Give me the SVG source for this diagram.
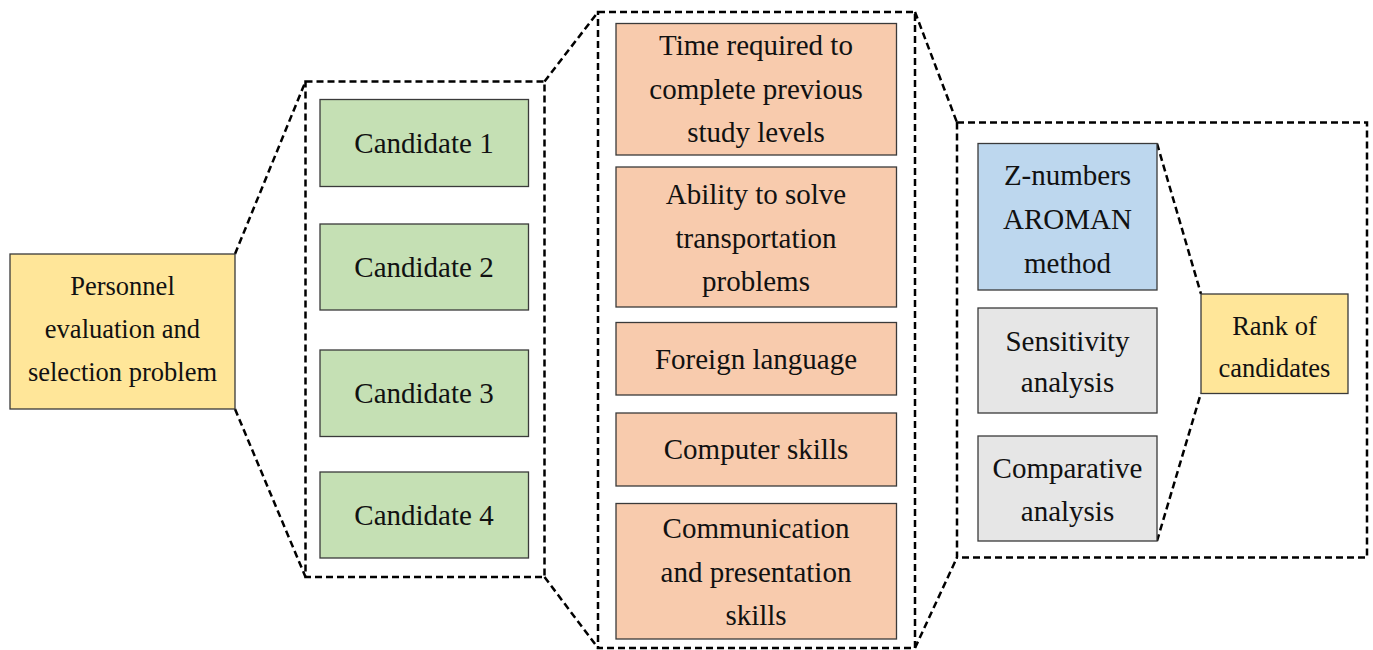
<svg xmlns="http://www.w3.org/2000/svg" width="1373" height="650" viewBox="0 0 1373 650">
  <style>
    .box { stroke: #3a3a3a; stroke-width: 1.3; }
    .yellow { fill: #FFE699; }
    .green { fill: #C5E0B4; }
    .peach { fill: #F8CBAD; }
    .blue { fill: #BDD7EE; }
    .grey { fill: #E6E6E6; }
    .frame { fill: none; stroke: #000; stroke-width: 2.5; stroke-dasharray: 7 4; }
    .link { fill: none; stroke: #000; stroke-width: 2.5; stroke-dasharray: 7 4; }
    text { font-family: "Liberation Serif", "Times New Roman", serif; font-size: 29px; fill: #111; text-anchor: middle; }
    .sm { font-size: 26.5px; }
  </style>
  <rect width="1373" height="650" fill="#fff"/>

  <!-- dashed containers -->
  <g id="frames">
    <rect class="frame" x="305.5" y="81.5" width="239" height="495.5"/>
    <rect class="frame" x="598" y="12" width="317" height="636"/>
    <rect class="frame" x="957" y="122.5" width="410" height="435"/>
  </g>

  <!-- expanding connectors -->
  <g id="connectors">
    <line class="link" x1="235" y1="254" x2="305.5" y2="81.5"/>
    <line class="link" x1="235" y1="409" x2="305.5" y2="577"/>
    <line class="link" x1="544.5" y1="81.5" x2="598" y2="12"/>
    <line class="link" x1="544.5" y1="577" x2="598" y2="648"/>
    <line class="link" x1="915" y1="12" x2="957" y2="122.5"/>
    <line class="link" x1="915" y1="648" x2="957" y2="557.5"/>
    <line class="link" x1="1157" y1="143.5" x2="1201" y2="294"/>
    <line class="link" x1="1157" y1="541" x2="1201" y2="393"/>
  </g>

  <g id="problem">
    <rect class="box yellow" x="10" y="254" width="225" height="155"/>
    <text class="sm" x="122.5" y="295">Personnel</text>
    <text class="sm" x="122.5" y="338">evaluation and</text>
    <text class="sm" x="122.5" y="381">selection problem</text>
  </g>

  <g id="candidate1">
    <rect class="box green" x="320" y="99.5" width="208.5" height="87"/>
    <text x="424" y="153">Candidate 1</text>
  </g>
  <g id="candidate2">
    <rect class="box green" x="320" y="224" width="208.5" height="86"/>
    <text x="424" y="277">Candidate 2</text>
  </g>
  <g id="candidate3">
    <rect class="box green" x="320" y="350" width="208.5" height="86.5"/>
    <text x="424" y="403">Candidate 3</text>
  </g>
  <g id="candidate4">
    <rect class="box green" x="320" y="472" width="208.5" height="86"/>
    <text x="424" y="525">Candidate 4</text>
  </g>

  <g id="criterion-time">
    <rect class="box peach" x="616" y="23.5" width="280.5" height="131.5"/>
    <text x="756" y="55">Time required to</text>
    <text x="756" y="99">complete previous</text>
    <text x="756" y="142">study levels</text>
  </g>
  <g id="criterion-transport">
    <rect class="box peach" x="616" y="167" width="280.5" height="140"/>
    <text x="756" y="204">Ability to solve</text>
    <text x="756" y="248">transportation</text>
    <text x="756" y="291">problems</text>
  </g>
  <g id="criterion-language">
    <rect class="box peach" x="616" y="322.5" width="280.5" height="72.5"/>
    <text x="756" y="369">Foreign language</text>
  </g>
  <g id="criterion-computer">
    <rect class="box peach" x="616" y="413" width="280.5" height="73"/>
    <text x="756" y="459">Computer skills</text>
  </g>
  <g id="criterion-communication">
    <rect class="box peach" x="616" y="503.5" width="280.5" height="135.5"/>
    <text x="756" y="538">Communication</text>
    <text x="756" y="582">and presentation</text>
    <text x="756" y="625">skills</text>
  </g>

  <g id="method">
    <rect class="box blue" x="978" y="143.5" width="179" height="146.5"/>
    <text x="1067.5" y="185">Z-numbers</text>
    <text x="1067.5" y="229">AROMAN</text>
    <text x="1067.5" y="273">method</text>
  </g>
  <g id="sensitivity">
    <rect class="box grey" x="978" y="308" width="179" height="105"/>
    <text x="1067.5" y="351">Sensitivity</text>
    <text x="1067.5" y="392">analysis</text>
  </g>
  <g id="comparative">
    <rect class="box grey" x="978" y="436" width="179" height="105"/>
    <text x="1067.5" y="478">Comparative</text>
    <text x="1067.5" y="521">analysis</text>
  </g>

  <g id="rank">
    <rect class="box yellow" x="1201" y="294" width="147" height="99.5"/>
    <text class="sm" x="1274.5" y="335">Rank of</text>
    <text class="sm" x="1274.5" y="377">candidates</text>
  </g>
</svg>
